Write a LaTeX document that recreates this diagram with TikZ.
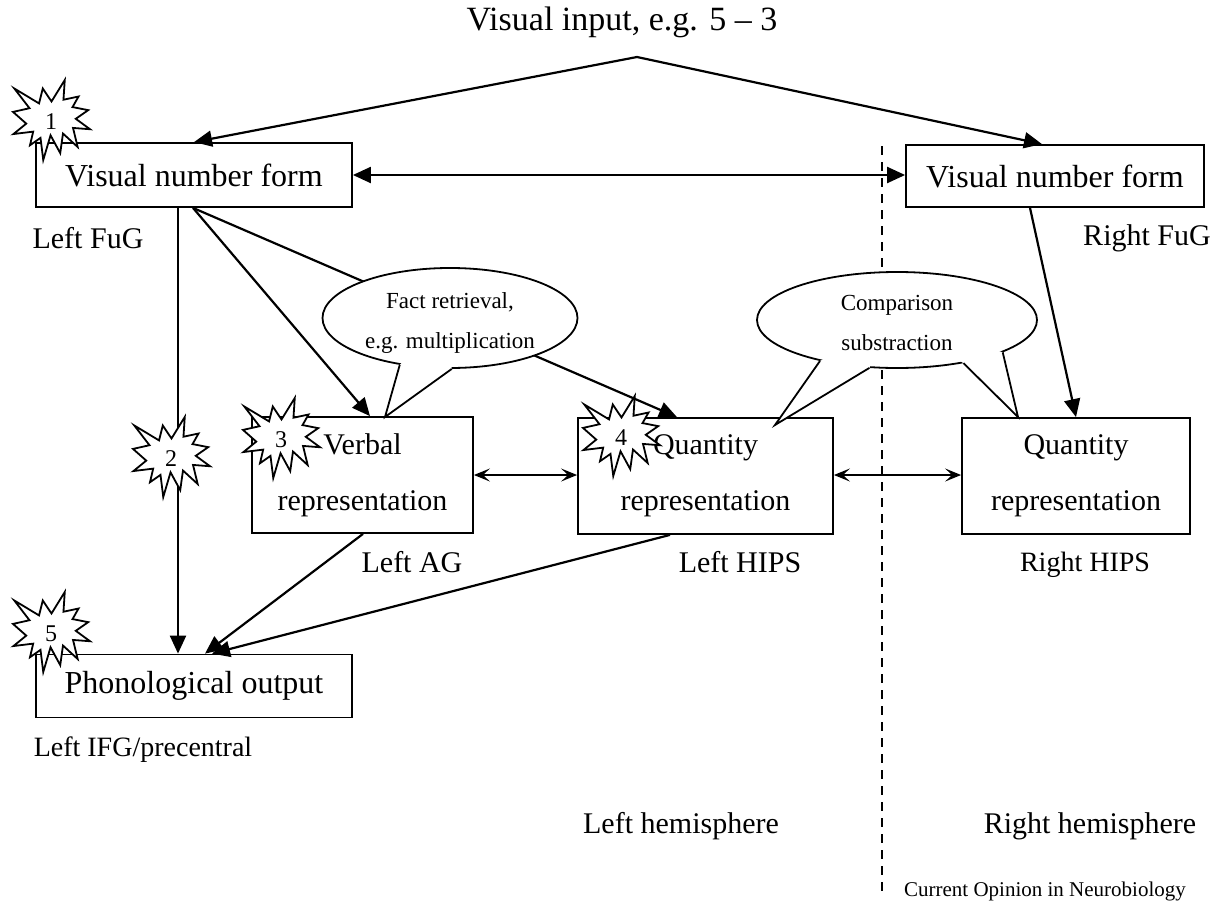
\documentclass[tikz,border=0pt]{standalone}
\usepackage{fontspec}
\setmainfont{Liberation Serif}
\usetikzlibrary{shapes.geometric,arrows.meta,calc}
\newcommand\boomshape[3]{%
  \begin{scope}[shift={(#1,#2)},x=0.3565pt,y=-0.3704pt]
    \filldraw[fill=white,draw=black,line width=1.8pt,line join=miter]
      (108,58) -- (145.22,0) -- (141.55,53.25) -- (183.80,44.57) -- (167.02,73.15) --
      (210.97,81.37) -- (176.07,104.75) -- (216,132.90) -- (168.37,129.42) --
      (181.45,180.95) -- (140.20,144.57) -- (132.47,197.37) -- (105.32,149.35) --
      (84.85,216) -- (77.15,156.27) -- (47.62,176.17) -- (56.67,139.37) --
      (1.35,145.87) -- (37.22,117.75) -- (0,86.15) -- (46.27,76.17) --
      (3.70,22.95) -- (73.12,63.20) -- (83.52,22.95) -- cycle;
  \end{scope}
  \node[num] (#3) at ($(#1,#2)+(38,42)$) {#3};%
}
\begin{document}
\begin{tikzpicture}[x=1pt,y=-1pt,
  box/.style={draw,line width=1.8pt,inner sep=0pt,align=center,font=\fontsize{30}{56}\selectfont},
  bigbox/.style={box,font=\fontsize{32}{38}\selectfont},
  lbl/.style={inner sep=0pt,font=\fontsize{30}{36}\selectfont},
  small/.style={inner sep=0pt,align=center,font=\fontsize{23}{40}\selectfont},
  num/.style={inner sep=0pt,font=\fontsize{24}{28}\selectfont},
  bub/.style={draw,ellipse,line width=1.8pt,fill=white,inner sep=0pt},
  arr/.style={line width=2.2pt,-{Triangle[length=18pt,width=16pt]}},
  darr/.style={line width=2.2pt,{Triangle[length=18pt,width=16pt]}-{Triangle[length=18pt,width=16pt]}},
  sarr/.style={line width=2pt,{Stealth[length=16pt,width=13pt,inset=7pt]}-{Stealth[length=16pt,width=13pt,inset=7pt]}},
  tail/.style={line width=1.8pt,line join=miter}]
\useasboundingbox (0,0) rectangle (1231,902);
% texts
\node[lbl,font=\fontsize{34}{40}\selectfont] (title) at (622,22) {Visual input, e.g. 5 -- 3};
\coordinate (apex) at (637,57);
% boxes
\node[bigbox,minimum width=316pt,minimum height=64pt] (vnfL) at (194,175) {Visual number form};
\node[bigbox,minimum width=298pt,minimum height=62pt] (vnfR) at (1055,176) {Visual number form};
\node[box,minimum width=221pt,minimum height=116pt] (verb) at (362.5,475) {Verbal\\representation};
\node[box,minimum width=255pt,minimum height=116pt] (qL) at (705.5,476) {Quantity\\representation};
\node[box,minimum width=228pt,minimum height=116pt] (qR) at (1076,476) {Quantity\\representation};
\node[bigbox,minimum width=316pt,minimum height=63pt] (phon) at (194,686) {Phonological output};
% labels
\node[lbl] (lfug) at (88,238) {Left FuG};
\node[lbl] (rfug) at (1147,238) {Right FuG};
\node[lbl] (lag) at (412,562) {Left AG};
\node[lbl] (lhips) at (740,562) {Left HIPS};
\node[lbl,font=\fontsize{28}{34}\selectfont] (rhips) at (1085,565) {Right HIPS};
\node[lbl,font=\fontsize{28}{34}\selectfont] (lifg) at (143,750) {Left IFG/precentral};
\node[lbl] (lhem) at (681,826) {Left hemisphere};
\node[lbl] (rhem) at (1090,826) {Right hemisphere};
\node[inner sep=0pt,font=\fontsize{21}{24}\selectfont] (cur) at (1045,891) {Current Opinion in Neurobiology};
% dashed midline
\coordinate (dtop) at (882,146);
\coordinate (dbot) at (882,892);
\draw[line width=1.5pt,dash pattern=on 9pt off 7pt] (dtop) -- (dbot);
% connectors
\draw[arr] (apex) -- (vnfL.north);
\draw[arr] (apex) -- ($(vnfR.north)+(-13,0)$);
\draw[darr] (vnfL.east) -- (vnfL.east -| vnfR.west);
\coordinate (vx) at ($(vnfL.south)+(-16,0)$);
\coordinate (vs) at ($(vnfL.south)+(-1,0)$);
\draw[arr] (vx) -- (vx |- phon.north);
\draw[arr] (vs) -- ($(verb.north)+(7.5,0)$);
\draw[arr] (vs) -- ($(qL.north)+(-28.5,0)$);
\draw[arr] ($(vnfR.south)+(-25,0)$) -- (qR.north);
\draw[sarr] (verb.east) -- (verb.east -| qL.west);
\draw[sarr] ($(qL.east)+(0,-1)$) -- ($(qL.east -| qR.west)+(0,-1)$);
\draw[arr] ($(verb.south)+(0.5,0)$) -- ($(phon.north)+(11,0)$);
\draw[arr] ($(qL.south)+(-35.5,0)$) -- ($(phon.north)+(18,0)$);
% explosions
\boomshape{13}{80}{1}
\boomshape{133}{417}{2}
\boomshape{243}{398}{3}
\boomshape{583}{396}{4}
\boomshape{13}{592}{5}
% bubble 1
\node[bub,minimum width=255pt,minimum height=100pt] (e1) at (450,318) {};
\coordinate (t1) at (385,417);
\fill[white] (e1.223) -- (t1) -- (e1.272) -- (e1.center) -- cycle;
\draw[tail] (e1.223) -- (t1) -- (e1.272);
\node[small] (e1t) at (450,323) {Fact retrieval,\\e.g. multiplication};
% bubble 2
\node[bub,minimum width=280pt,minimum height=96pt] (e2) at (897,320) {};
\coordinate (t2) at (775,425);
\coordinate (t3) at (1018,417);
\fill[white] (e2.208.6) -- (t2) -- (e2.240.6) -- (e2.center) -- cycle;
\draw[tail] (e2.208.6) -- (t2) -- (e2.240.6);
\fill[white] (e2.327.6) -- (t3) -- (e2.343.6) -- (e2.center) -- cycle;
\draw[tail] (e2.327.6) -- (t3) -- (e2.343.6);
\node[small] (e2t) at (897,323) {Comparison\\substraction};
\end{tikzpicture}
\end{document}
